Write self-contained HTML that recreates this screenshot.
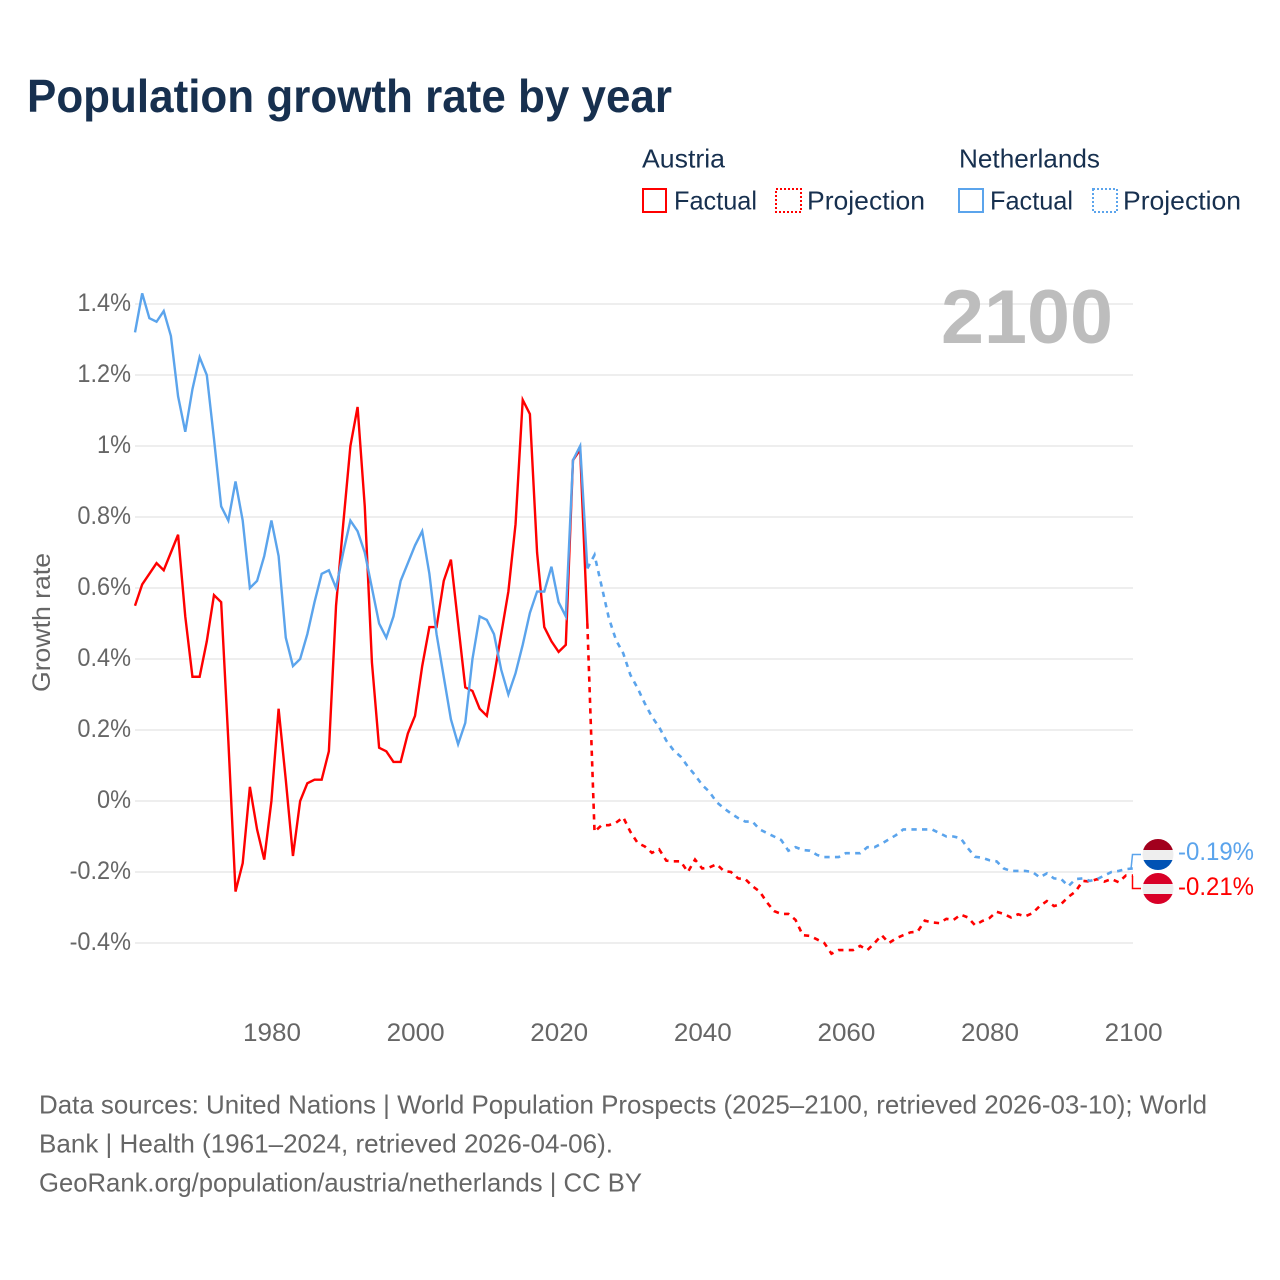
<!DOCTYPE html>
<html lang="en">
<head>
<meta charset="utf-8">
<title>Population growth rate by year</title>
<style>
html,body{margin:0;padding:0;background:#fff;}
svg{display:block;font-family:"Liberation Sans",sans-serif;}
</style>
</head>
<body>
<svg id="chart" xmlns="http://www.w3.org/2000/svg" width="1280" height="1280" viewBox="0 0 1280 1280">
  <rect width="1280" height="1280" fill="#ffffff"/>
  <text x="27" y="112" font-size="46" font-weight="700" fill="#17304f" textLength="645" lengthAdjust="spacingAndGlyphs">Population growth rate by year</text>

  <g font-size="26" fill="#17304f">
    <text x="642" y="167.5" textLength="83" lengthAdjust="spacingAndGlyphs">Austria</text>
    <text x="959" y="167.5" textLength="141" lengthAdjust="spacingAndGlyphs">Netherlands</text>
    <rect x="643" y="189" width="23" height="23" fill="none" stroke="#ff0000" stroke-width="2"/>
    <text x="674" y="209.5" textLength="83" lengthAdjust="spacingAndGlyphs">Factual</text>
    <rect x="776" y="189" width="25" height="23" fill="none" stroke="#ff0000" stroke-width="2" stroke-dasharray="2 2"/>
    <text x="807" y="209.5" textLength="118" lengthAdjust="spacingAndGlyphs">Projection</text>
    <rect x="959" y="189" width="24" height="23" fill="none" stroke="#5ba4ec" stroke-width="2"/>
    <text x="990" y="209.5" textLength="83" lengthAdjust="spacingAndGlyphs">Factual</text>
    <rect x="1093" y="189" width="24" height="23" fill="none" stroke="#5ba4ec" stroke-width="2" stroke-dasharray="2 2"/>
    <text x="1123" y="209.5" textLength="118" lengthAdjust="spacingAndGlyphs">Projection</text>
  </g>

  <text transform="translate(50,692) rotate(-90)" font-size="25" fill="#666666" textLength="139" lengthAdjust="spacingAndGlyphs">Growth rate</text>

  <g id="grid"></g>
  <g id="yticks" font-size="25" fill="#666666" text-anchor="end"></g>
  <g id="xticks" font-size="25" fill="#666666" text-anchor="middle"></g>

  <text x="941" y="343" font-size="76" font-weight="700" fill="#bdbdbd" textLength="172" lengthAdjust="spacingAndGlyphs">2100</text>

  <g id="series"></g>

  <g>
    <path d="M1131 869 L1132.5 854.5 L1141 854.5" fill="none" stroke="#5ba4ec" stroke-width="1.5"/>
    <path d="M1132.5 876 L1132.5 888.5 L1141 888.5" fill="none" stroke="#ff0000" stroke-width="1.5"/>
    <defs>
      <clipPath id="clip-nl"><circle cx="1158" cy="854.5" r="15.5"/></clipPath>
      <clipPath id="clip-at"><circle cx="1158" cy="888.5" r="15.5"/></clipPath>
    </defs>
    <g clip-path="url(#clip-nl)">
      <rect x="1142" y="839" width="32" height="11" fill="#a2001d"/>
      <rect x="1142" y="850" width="32" height="10" fill="#eeeeee"/>
      <rect x="1142" y="860" width="32" height="11" fill="#0052b4"/>
    </g>
    <g clip-path="url(#clip-at)">
      <rect x="1142" y="873" width="32" height="11" fill="#d80027"/>
      <rect x="1142" y="884" width="32" height="10" fill="#eeeeee"/>
      <rect x="1142" y="894" width="32" height="11" fill="#d80027"/>
    </g>
    <text x="1178" y="860" font-size="25" fill="#5ba4ec" textLength="76" lengthAdjust="spacingAndGlyphs">-0.19%</text>
    <text x="1178" y="895" font-size="25" fill="#ff0000" textLength="76" lengthAdjust="spacingAndGlyphs">-0.21%</text>
  </g>

  <g font-size="26" fill="#666666">
    <text x="39" y="1113.5" textLength="1168" lengthAdjust="spacingAndGlyphs">Data sources: United Nations | World Population Prospects (2025–2100, retrieved 2026-03-10); World</text>
    <text x="39" y="1152.5" textLength="574" lengthAdjust="spacingAndGlyphs">Bank | Health (1961–2024, retrieved 2026-04-06).</text>
    <text x="39" y="1191.5" textLength="603" lengthAdjust="spacingAndGlyphs">GeoRank.org/population/austria/netherlands | CC BY</text>
  </g>
</svg>
<script>
const factualStartYear = 1961;
const projectionStartYear = 2024;
const yTickValues = [1.4, 1.2, 1, 0.8, 0.6, 0.4, 0.2, 0, -0.2, -0.4];
const yTickLabels = ["1.4%", "1.2%", "1%", "0.8%", "0.6%", "0.4%", "0.2%", "0%", "-0.2%", "-0.4%"];
const xTickYears = [1980, 2000, 2020, 2040, 2060, 2080, 2100];

const austriaFactual = [
  0.55,0.61,0.64,0.67,0.65,0.70,0.75,0.52,0.35,0.35,
  0.45,0.58,0.56,0.17,-0.255,-0.175,0.04,-0.08,-0.165,0.00,
  0.26,0.06,-0.155,0.00,0.05,0.06,0.06,0.14,0.55,0.78,
  1.00,1.11,0.83,0.39,0.15,0.14,0.11,0.11,0.19,0.24,
  0.38,0.49,0.49,0.62,0.68,0.50,0.32,0.31,0.26,0.24,
  0.35,0.47,0.59,0.78,1.13,1.09,0.70,0.49,0.45,0.42,
  0.44,0.96,0.99,0.50
];
const netherlandsFactual = [
  1.32,1.43,1.36,1.35,1.38,1.31,1.14,1.04,1.16,1.25,
  1.20,1.02,0.83,0.79,0.90,0.79,0.60,0.62,0.69,0.79,
  0.69,0.46,0.38,0.40,0.47,0.56,0.64,0.65,0.60,0.70,
  0.79,0.76,0.70,0.60,0.50,0.46,0.52,0.62,0.67,0.72,
  0.76,0.64,0.47,0.35,0.23,0.16,0.22,0.40,0.52,0.51,
  0.47,0.37,0.30,0.36,0.44,0.53,0.59,0.59,0.66,0.56,
  0.52,0.96,1.00,0.655
];
const austriaProjection = [
  0.50,-0.087,-0.068,-0.068,-0.061,-0.046,-0.087,-0.118,-0.128,-0.146,
  -0.136,-0.168,-0.17,-0.17,-0.20,-0.165,-0.19,-0.187,-0.178,-0.197,
  -0.20,-0.218,-0.22,-0.24,-0.255,-0.285,-0.31,-0.318,-0.318,-0.335,
  -0.378,-0.38,-0.39,-0.40,-0.43,-0.42,-0.42,-0.42,-0.408,-0.42,
  -0.40,-0.378,-0.40,-0.387,-0.378,-0.37,-0.368,-0.337,-0.342,-0.344,
  -0.332,-0.335,-0.32,-0.328,-0.35,-0.338,-0.33,-0.312,-0.318,-0.328,
  -0.319,-0.325,-0.316,-0.296,-0.282,-0.296,-0.29,-0.27,-0.255,-0.225,
  -0.227,-0.22,-0.227,-0.22,-0.229,-0.21,-0.21
];
const netherlandsProjection = [
  0.655,0.693,0.604,0.515,0.453,0.416,0.355,0.318,0.275,0.237,
  0.208,0.17,0.143,0.125,0.097,0.073,0.045,0.026,-0.003,-0.02,
  -0.035,-0.048,-0.058,-0.058,-0.08,-0.09,-0.10,-0.11,-0.14,-0.13,
  -0.138,-0.14,-0.152,-0.158,-0.158,-0.158,-0.147,-0.147,-0.147,-0.13,
  -0.13,-0.12,-0.108,-0.096,-0.08,-0.08,-0.08,-0.08,-0.08,-0.09,
  -0.10,-0.10,-0.105,-0.133,-0.157,-0.16,-0.167,-0.17,-0.19,-0.197,
  -0.197,-0.197,-0.20,-0.215,-0.204,-0.218,-0.22,-0.24,-0.22,-0.218,
  -0.225,-0.22,-0.21,-0.20,-0.197,-0.192,-0.19
];

function xScale(year) { return 135 + (year - 1961) * 7.18; }
function yScale(value) { return 801 - value * 355; }
const NS = "http://www.w3.org/2000/svg";

const grid = document.getElementById("grid");
const yticks = document.getElementById("yticks");
yTickValues.forEach(function (v, i) {
  const line = document.createElementNS(NS, "line");
  
  
  line.setAttribute("x1", 135);
  line.setAttribute("x2", xScale(2100));
  line.setAttribute("y1", yScale(v));
  line.setAttribute("y2", yScale(v));
  line.setAttribute("stroke", "#e8e8e8");
  line.setAttribute("stroke-width", "1.5");
  grid.appendChild(line);
  const label = document.createElementNS(NS, "text");
  
  
  label.setAttribute("x", 131);
  label.setAttribute("y", yScale(v) + 7);
  label.textContent = yTickLabels[i];
  yticks.appendChild(label);
  label.setAttribute("textLength", (label.getComputedTextLength() * 0.94).toFixed(1));
  label.setAttribute("lengthAdjust", "spacingAndGlyphs");
});

const xticks = document.getElementById("xticks");
xTickYears.forEach(function (yr) {
  const label = document.createElementNS(NS, "text");
  
  
  label.setAttribute("x", xScale(yr) + 0.6);
  label.setAttribute("y", 1041);
  label.textContent = yr;
  xticks.appendChild(label);
  label.setAttribute("textLength", (label.getComputedTextLength() * 1.04).toFixed(1));
  label.setAttribute("lengthAdjust", "spacingAndGlyphs");
});

function pathFor(values, startYear) {
  return values.map(function (v, i) {
    return (i ? "L" : "M") + xScale(startYear + i).toFixed(2) + " " + yScale(v).toFixed(2);
  }).join(" ");
}

const seriesGroup = document.getElementById("series");

const austriaProjLine = document.createElementNS(NS, "path");


austriaProjLine.setAttribute("d", pathFor(austriaProjection, projectionStartYear));
austriaProjLine.setAttribute("fill", "none");
austriaProjLine.setAttribute("stroke", "#ff0000");
austriaProjLine.setAttribute("stroke-width", "2.6");
austriaProjLine.setAttribute("stroke-dasharray", "5.3 5.3");
seriesGroup.appendChild(austriaProjLine);

const netherlandsProjLine = document.createElementNS(NS, "path");


netherlandsProjLine.setAttribute("d", pathFor(netherlandsProjection, projectionStartYear));
netherlandsProjLine.setAttribute("fill", "none");
netherlandsProjLine.setAttribute("stroke", "#5ba4ec");
netherlandsProjLine.setAttribute("stroke-width", "2.6");
netherlandsProjLine.setAttribute("stroke-dasharray", "5.3 5.3");
seriesGroup.appendChild(netherlandsProjLine);

const austriaLine = document.createElementNS(NS, "path");


austriaLine.setAttribute("d", pathFor(austriaFactual, factualStartYear));
austriaLine.setAttribute("fill", "none");
austriaLine.setAttribute("stroke", "#ff0000");
austriaLine.setAttribute("stroke-width", "2.4");
seriesGroup.appendChild(austriaLine);

const netherlandsLine = document.createElementNS(NS, "path");


netherlandsLine.setAttribute("d", pathFor(netherlandsFactual, factualStartYear));
netherlandsLine.setAttribute("fill", "none");
netherlandsLine.setAttribute("stroke", "#5ba4ec");
netherlandsLine.setAttribute("stroke-width", "2.4");
seriesGroup.appendChild(netherlandsLine);
</script>
</body>
</html>
